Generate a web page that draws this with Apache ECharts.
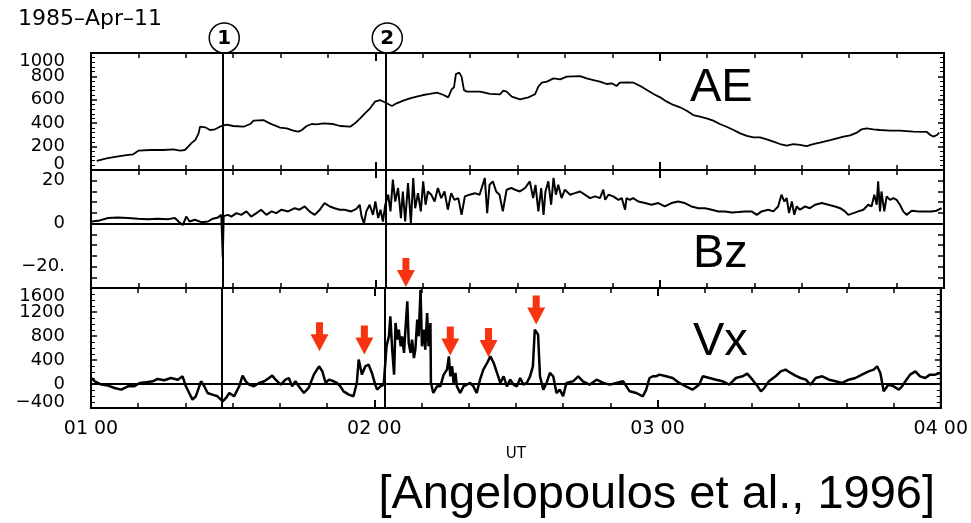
<!DOCTYPE html>
<html>
<head>
<meta charset="utf-8">
<script src="https://cdn.jsdelivr.net/npm/echarts@6/dist/echarts.min.js"></script>
<style>
html, body { margin: 0; padding: 0; background: #fff; }
#main { width: 971px; height: 523px; }
</style>
</head>
<body>
<div id="main"></div>
<script>
/*
 * 1985-Apr-11, AE / Bz / Vx, 01-04 UT
 * time = minutes after 01:00 UT
 */

var color_flecha = '#f8330f';
var fuente = 'DejaVu Sans';

// AE [min, nT]
var ae_data = [[1.2,77],[3.3,100],[5.4,114],[7.5,128],[8.9,134],[10.0,165],[12.5,171],[15.3,171],[17.4,177],[18.8,165],
    [19.8,171],[20.5,199],[21.3,234],[22.0,256],[22.7,313],[23.0,370],[24.1,365],[25.1,342],[26.2,348],[27.2,370],
    [28.6,387],[30.0,376],[32.2,370],[33.6,393],[34.3,422],[36.4,427],[37.4,405],[38.5,385],[39.9,362],[41.3,356],
    [42.7,336],[43.8,328],[44.5,342],[45.5,376],[46.6,393],[47.6,390],[49.0,399],[51.1,393],[52.6,376],[54.7,370],
    [55.7,399],[56.8,442],[57.8,484],[58.9,527],[59.9,584],[61.0,598],[62.4,570],[63.5,547],[64.5,570],[65.9,593],
    [67.3,613],[68.7,627],[70.1,641],[71.5,650],[73.0,661],[74.4,641],[75.4,621],[76.1,689],[76.6,707],[77.0,820],
    [77.7,832],[78.2,798],[78.7,684],[79.3,670],[81.4,670],[82.1,670],[84.2,650],[86.3,647],[87.0,678],[87.7,670],
    [88.8,627],[90.5,604],[92.3,621],[93.7,647],[94.4,712],[95.1,746],[96.2,755],[97.6,783],[99.0,775],[100.4,798],
    [103.2,803],[104.6,783],[106.0,769],[107.4,755],[108.8,735],[109.9,741],[110.9,718],[111.6,746],[113.0,749],[114.5,746],
    [115.9,718],[117.3,684],[118.7,650],[120.1,621],[121.5,584],[122.9,556],[124.3,536],[125.7,507],[127.1,470],[128.5,456],
    [129.9,442],[131.3,422],[132.7,393],[134.1,370],[135.6,342],[137.0,313],[138.4,291],[139.8,279],[141.2,279],[142.6,262],
    [144.0,242],[145.4,222],[146.8,208],[148.2,222],[149.6,214],[151.0,205],[152.4,222],[153.8,234],[156.0,256],[157.4,271],
    [158.8,285],[160.2,296],[161.6,319],[162.6,348],[163.7,356],[165.1,348],[166.5,342],[168.6,336],[170.7,336],[173.5,328],
    [176.4,325],[177.1,299],[177.8,285],[178.5,299],[179.0,319]];

// Bz [min, nT]
var bz_data = [[0.1,1.0],[1.5,1.3],[3.6,2.6],[5.7,2.9],[7.8,2.6],[9.9,2.3],[12.0,2.1],[14.1,2.3],[16.3,2.1],[17.7,2.6],
    [18.7,0.5],[19.4,-0.6],[20.1,3.3],[20.8,1.0],[21.9,1.8],[23.3,0.7],[24.7,1.0],[25.7,2.3],[26.8,2.9],[27.5,4.1],
    [27.8,-15.5],[28.0,3.5],[28.2,2.6],[28.9,4.1],[29.6,3.3],[30.7,4.9],[31.7,4.1],[32.8,5.7],[33.8,3.3],[34.9,4.9],
    [35.9,6.5],[37.0,4.1],[38.1,5.7],[39.1,4.9],[40.2,6.5],[41.6,5.7],[43.0,7.2],[44.0,6.5],[45.1,8.0],[46.1,5.7],
    [47.2,4.1],[48.3,6.5],[49.3,9.6],[50.4,8.0],[51.4,7.2],[52.5,6.5],[53.5,6.5],[54.9,5.7],[56.0,6.9],[56.7,8.8],
    [57.1,3.3],[57.6,0.2],[58.1,5.7],[58.8,8.8],[59.5,4.1],[60.0,10.3],[60.6,2.6],[61.1,6.5],[61.6,1.0],[62.1,8.8],
    [62.7,13.5],[63.2,5.7],[63.7,20.5],[64.2,10.3],[64.8,16.6],[65.4,2.6],[65.8,15.0],[66.3,1.0],[66.9,18.9],[67.5,0.2],
    [68.0,21.3],[68.4,7.2],[69.0,14.2],[69.6,5.7],[70.1,19.7],[70.6,8.8],[71.1,15.0],[71.8,13.5],[72.5,10.3],[73.2,16.6],
    [73.9,11.9],[74.6,15.0],[75.3,6.5],[76.0,14.2],[76.7,11.1],[77.5,11.9],[78.2,4.1],[78.9,12.7],[79.9,13.5],[81.0,14.2],
    [82.0,13.5],[83.1,21.3],[83.6,4.9],[84.1,18.1],[84.8,19.7],[85.5,15.0],[86.2,13.5],[86.9,5.7],[87.7,15.8],[88.7,16.6],
    [89.5,15.8],[90.5,15.0],[91.6,16.6],[92.6,19.7],[93.3,11.9],[93.8,18.1],[94.4,5.7],[95.0,16.6],[95.5,4.1],[95.9,15.0],
    [96.5,19.7],[97.1,8.8],[97.6,21.3],[98.1,13.5],[98.6,18.1],[99.3,11.9],[100.0,15.8],[101.1,13.5],[102.1,14.2],[103.2,15.0],
    [104.2,13.5],[105.3,11.9],[106.4,12.7],[107.4,11.9],[108.1,15.8],[108.5,11.1],[109.2,13.5],[110.2,12.7],[111.3,11.1],[112.0,11.9],
    [112.7,6.5],[113.0,11.9],[113.7,11.1],[114.4,11.9],[115.5,10.3],[116.9,9.6],[118.3,8.8],[119.7,9.6],[121.1,8.0],[122.5,9.6],
    [123.9,10.3],[125.3,9.6],[126.7,8.0],[128.2,7.2],[129.6,7.2],[131.0,6.5],[132.4,5.7],[133.8,5.7],[135.2,5.2],[136.6,5.4],
    [138.0,5.7],[139.4,5.7],[140.5,4.1],[141.5,5.7],[142.9,6.5],[144.0,5.7],[145.0,8.0],[145.7,13.5],[146.3,10.3],[146.8,11.9],
    [147.3,4.9],[147.9,10.3],[148.4,4.1],[148.9,8.0],[149.6,6.5],[150.7,8.0],[151.7,7.2],[152.8,8.8],[154.2,9.6],[155.6,8.8],
    [157.0,8.0],[158.1,7.2],[159.1,5.7],[159.8,4.1],[160.9,4.9],[161.9,5.7],[163.0,6.5],[164.0,8.8],[164.7,8.0],[165.3,13.5],
    [165.8,8.8],[166.1,19.7],[166.5,5.7],[166.8,15.0],[167.4,5.7],[167.9,12.7],[168.6,11.1],[169.3,11.9],[170.0,11.1],[170.7,8.8],
    [171.4,5.7],[172.1,4.1],[173.2,6.0],[174.6,5.7],[176.0,5.7],[177.4,5.7],[178.4,6.0],[179.5,7.2]];

// Vx [min, km/s]
var vx_data = [[0,100],[0.8,45],[2.2,-10],[3.6,-27],[5.0,-66],[6.4,-94],[7.8,-38],[9.2,-38],[10.3,17],[11.7,28],
    [13.1,45],[14.1,84],[15.5,62],[16.9,100],[18.4,72],[19.4,128],[20.1,-38],[20.8,-150],[21.5,-261],[22.2,-205],
    [23.3,45],[24.0,-38],[24.7,-150],[25.7,-177],[26.8,-205],[27.9,-288],[28.6,-233],[29.3,-150],[30.3,-205],[31.4,-38],
    [32.1,140],[32.8,45],[33.5,-10],[34.5,-38],[35.6,17],[36.7,45],[37.7,100],[38.4,140],[39.1,72],[40.2,-10],
    [41.2,72],[41.9,100],[42.6,-38],[43.3,45],[44.0,-38],[45.1,-150],[46.1,-66],[47.2,156],[48.3,295],[49.0,212],
    [49.7,17],[50.4,72],[51.4,45],[52.1,17],[52.8,-38],[53.5,-122],[54.6,-177],[55.6,-205],[56.3,17],[56.7,406],
    [57.4,156],[58.1,295],[58.8,323],[59.5,184],[60.2,-10],[60.6,-94],[61.3,-39],[62.0,-11],[62.6,628],[63.1,795],
    [63.4,1128],[63.8,572],[64.2,156],[64.5,1017],[64.9,739],[65.2,906],[65.6,628],[65.9,795],[66.3,517],[66.6,906],
    [67.0,1378],[67.3,683],[67.7,517],[68.0,739],[68.4,433],[68.7,572],[69.1,1072],[69.4,795],[69.8,1572],[70.1,628],
    [70.5,906],[70.8,572],[71.2,1184],[71.5,628],[71.9,1017],[72.0,17],[72.5,-150],[73.3,-39],[74.0,-39],[74.7,156],
    [75.4,239],[75.8,461],[76.1,128],[76.5,295],[76.8,17],[77.2,184],[77.5,-39],[78.2,-150],[78.9,-39],[79.6,-11],
    [80.3,17],[81.0,-39],[81.7,-150],[82.4,72],[83.1,239],[83.9,350],[84.6,461],[85.3,350],[86.0,184],[86.7,17],
    [87.4,128],[88.1,-39],[88.8,72],[89.5,-11],[90.2,-39],[90.9,100],[91.6,-11],[92.3,17],[93.0,128],[93.6,295],
    [94.0,906],[94.4,878],[94.7,822],[95.1,128],[95.8,-94],[96.5,17],[97.2,184],[97.9,128],[98.6,-150],[99.3,-94],
    [100.0,-205],[100.7,17],[102.1,45],[103.2,128],[104.2,45],[105.6,-11],[107.1,72],[108.5,17],[109.9,-11],[111.3,17],
    [112.7,45],[114.1,-122],[115.5,-150],[116.9,-205],[117.6,-94],[118.3,100],[119.0,128],[119.7,128],[120.4,156],[121.8,128],
    [123.2,100],[124.6,17],[126.0,-39],[127.4,-94],[128.8,-11],[129.6,128],[131.0,100],[132.4,72],[133.8,45],[135.2,-11],
    [136.6,100],[138.0,128],[139.0,172],[140.1,72],[141.2,-39],[141.9,-122],[142.6,-67],[143.6,45],[145.0,128],[146.1,211],
    [147.1,239],[148.2,184],[149.2,139],[150.3,100],[151.4,72],[152.4,-11],[153.5,100],[154.9,128],[156.3,72],[157.7,45],
    [159.1,17],[160.5,72],[161.9,100],[163.3,156],[164.7,211],[165.8,239],[166.5,295],[167.2,184],[167.9,-122],[168.9,-11],
    [170.0,-39],[171.1,-94],[171.8,-39],[172.5,45],[173.5,156],[174.6,211],[175.6,128],[176.7,100],[177.7,156],[178.8,156],
    [179.8,184]];

// events (1) and (2)
var evento_tiempos = [27.8, 62.2];
var evento_nombres = ['1', '2'];

// red arrows over Vx bursts (tip position)
var flecha_tiempos = [48.4, 57.9, 66.7, 76.1, 84.2, 94.3];
var flecha_valores = [545, 490, 1617, 473, 450, 990];

var paneles = ['AE', 'Bz', 'Vx'];

/** X AXIS OF ONE PANEL */
function eje_x(grid, pos, etiquetas) {
    return {
        type: 'value', gridIndex: grid, position: pos,
        min: 0, max: 180, interval: 60,
        axisLine: { show: true, onZero: false, lineStyle: { color: '#000', width: 2 } },
        axisTick: { show: true, inside: true, length: 8, lineStyle: { color: '#000', width: 2 } },
        minorTick: { show: true, splitNumber: 6, length: 5, lineStyle: { color: '#000', width: 1.5 } },
        splitLine: { show: false },
        axisLabel: {
            show: etiquetas, margin: 12, color: '#000', fontSize: 19, fontFamily: fuente,
            showMinLabel: true, showMaxLabel: true,
            formatter: function(v) { return '0' + (1 + v / 60) + ' 00'; }
        },
        name: etiquetas ? 'UT' : '',
        nameLocation: 'middle', nameGap: 39,
        nameTextStyle: { color: '#000', fontSize: 15, fontFamily: fuente }
    };
}

/** Y AXIS OF ONE PANEL */
function eje_y(grid, pos, min, max, interval, minor, formatter) {
    var etiqueta = { fontSize: 18, fontFamily: fuente, color: '#000' };
    return {
        type: 'value', gridIndex: grid, position: pos,
        min: min, max: max, interval: interval,
        axisLine: { show: true, onZero: false, lineStyle: { color: '#000', width: 2 } },
        axisTick: { show: true, inside: true, length: 6, lineStyle: { color: '#000', width: 1.5 } },
        minorTick: { show: minor > 0, splitNumber: minor || 5, length: 4, lineStyle: { color: '#000', width: 1 } },
        splitLine: { show: false },
        axisLabel: {
            show: !!formatter, margin: 26, color: '#000', fontSize: 18, fontFamily: fuente,
            showMinLabel: true, showMaxLabel: true, hideOverlap: false,
            formatter: formatter
        }
    };
}

/** LABELS OF THE AXIS ENDS, pushed inward like the original plot */
function eje_extremos(grid, min, max, interval) {
    var etiqueta = { fontSize: 18, fontFamily: fuente, color: '#000' };
    return {
        type: 'value', gridIndex: grid, position: 'left',
        min: min, max: max, interval: interval,
        axisLine: { show: false, onZero: false },
        axisTick: { show: false },
        splitLine: { show: false },
        axisLabel: {
            show: true, margin: 26, color: '#000', fontSize: 18, fontFamily: fuente,
            showMinLabel: true, showMaxLabel: true, hideOverlap: false,
            formatter: function(v) {
                var txt = String(v).replace('-', '\u2212');
                if (v === max) return '{dn|' + txt + '}';
                if (v === min) return '{up|' + txt + '}';
                return '';
            },
            rich: {
                dn: Object.assign({ padding: [17, 0, 0, 0] }, etiqueta),
                up: Object.assign({ padding: [0, 0, 12, 0] }, etiqueta)
            }
        }
    };
}

function serie(i, data, ancho, marcas) {
    return {
        type: 'line', xAxisIndex: i, yAxisIndex: i,
        data: data, showSymbol: false, symbol: 'none',
        lineStyle: { color: '#000', width: ancho },
        animation: false, silent: true,
        markLine: {
            silent: true, symbol: 'none', animation: false,
            label: { show: false },
            lineStyle: { color: '#000', width: 2, type: 'solid' },
            data: marcas
        }
    };
}

function marcas_evento(cero) {
    var m = evento_tiempos.map(function(t) { return { xAxis: t }; });
    if (cero) m.push({ yAxis: 0 });
    return m;
}

var chart = echarts.init(document.getElementById('main'), null, { renderer: 'canvas' });

var option = {
    backgroundColor: '#fff',
    animation: false,
    grid: [
        { left: 91, right: 27, top: 53, height: 117, show: true, borderColor: '#000', borderWidth: 2 },
        { left: 91, right: 27, top: 170, height: 118, show: true, borderColor: '#000', borderWidth: 2 },
        { left: 91, right: 27, top: 288, height: 120, show: true, borderColor: '#000', borderWidth: 2 }
    ],
    xAxis: [
        eje_x(0, 'bottom', false), eje_x(1, 'bottom', false), eje_x(2, 'bottom', true),
        eje_x(0, 'top', false), eje_x(1, 'top', false), eje_x(2, 'top', false)
    ],
    yAxis: [
        eje_y(0, 'left', 0, 1000, 200, 5, function(v) {
            return (v === 0 || v === 1000) ? '' : String(v);
        }),
        eje_y(1, 'left', -30, 25, 5, 0, function(v) {
            if (v === 20) return '20';
            if (v === 0) return '0';
            if (v === -20) return '\u221220.';
            return '';
        }),
        eje_y(2, 'left', -400, 1600, 400, 4, function(v) {
            return (v === -400 || v === 1600) ? '' : String(v);
        }),
        eje_y(0, 'right', 0, 1000, 200, 5, null),
        eje_y(1, 'right', -30, 25, 5, 0, null),
        eje_y(2, 'right', -400, 1600, 400, 4, null),
        eje_extremos(0, 0, 1000, 200),
        eje_extremos(2, -400, 1600, 400)
    ],
    series: [
        serie(0, ae_data, 1.8, marcas_evento(false)),
        serie(1, bz_data, 2, marcas_evento(true)),
        serie(2, vx_data, 2.5, marcas_evento(true))
    ]
};

chart.setOption(option);

/** ANNOTATIONS: circled event numbers, panel names, arrows */
function anotaciones() {
    var g = [];

    evento_tiempos.forEach(function(t, i) {
        var p = chart.convertToPixel({ seriesIndex: 0 }, [t, 1000]);
        g.push({
            type: 'circle', shape: { cx: p[0] + 1.5, cy: 38, r: 15 },
            style: { fill: '#fff', stroke: '#000', lineWidth: 1.5 }
        });
        g.push({
            type: 'text', x: p[0] + 1.5, y: 39,
            style: { text: evento_nombres[i], fill: '#000', font: 'bold 20px ' + fuente, align: 'center', verticalAlign: 'middle' }
        });
    });

    flecha_tiempos.forEach(function(t, i) {
        var p = chart.convertToPixel({ seriesIndex: 2 }, [t, flecha_valores[i]]);
        g.push({
            type: 'polygon', x: p[0], y: p[1],
            shape: { points: [[0, 0], [-9, -17], [-3.5, -17], [-3.5, -29], [3.5, -29], [3.5, -17], [9, -17]] },
            style: { fill: color_flecha }
        });
    });

    var pos_nombres = [[690, 88], [693, 254], [693, 342]];
    paneles.forEach(function(n, i) {
        g.push({
            type: 'text', x: pos_nombres[i][0], y: pos_nombres[i][1],
            style: { text: n, fill: '#000', font: '47px "Liberation Sans"', align: 'left', verticalAlign: 'middle' }
        });
    });

    g.push({
        type: 'text', x: 18, y: 19,
        style: { text: '1985\u2013Apr\u201311', fill: '#000', font: '22px ' + fuente, align: 'left', verticalAlign: 'middle' }
    });
    g.push({
        type: 'text', x: 935, y: 495,
        style: { text: '[Angelopoulos et al., 1996]', fill: '#000', font: '47px "Liberation Sans"', align: 'right', verticalAlign: 'middle' }
    });

    chart.setOption({ graphic: g });
}

anotaciones();
</script>
</body>
</html>
